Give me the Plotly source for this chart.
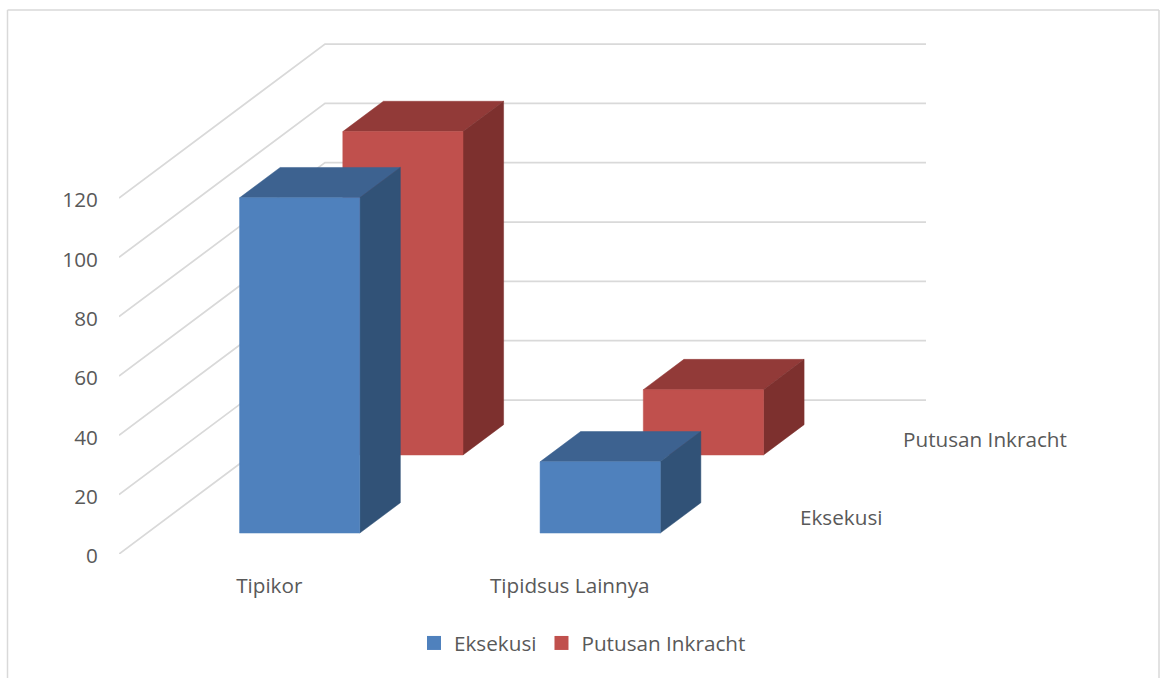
import plotly.graph_objects as go

# Chart data
categories = ["Tipikor", "Tipidsus Lainnya"]
series_names = ["Eksekusi", "Putusan Inkracht"]
eksekusi = [113, 24]
putusan_inkracht = [109, 22]
value_ticks = [0, 20, 40, 60, 80, 100, 120]

# Page geometry and the scale of the front plane (pixels)
WIDTH, HEIGHT = 1160, 678
LEFT, BASELINE = 119, 554
PX_PER_CATEGORY = 300.5
PX_PER_VALUE = 356 / 120

# Oblique projection: one unit of depth moves a point right and up
DEPTH_X = 206 / PX_PER_CATEGORY
DEPTH_Y = 154 / PX_PER_VALUE
N_CATEGORIES = 2
BAR_WIDTH = 0.4
BAR_DEPTH = 0.197
ROW_FRONT = {"Eksekusi": 0.136, "Putusan Inkracht": 0.643}
ROW_NUDGE = {"Eksekusi": 0.008, "Putusan Inkracht": 0.004}
LABEL_SHIFT = {"Eksekusi": 30, "Putusan Inkracht": 28}

FONT = "Open Sans"
FONT_SIZE = 20.7
TEXT = "#595959"
GRID = "#D9D9D9"
STYLES = {
    "Eksekusi": {"front": "#4F81BD", "top": "#3D6290", "side": "#315277"},
    "Putusan Inkracht": {"front": "#C0504D", "top": "#923A38", "side": "#7D302E"},
}


def project(x, value, depth):
    return x + depth * DEPTH_X, value + depth * DEPTH_Y


def polygons(faces):
    xs, ys = [], []
    for face in faces:
        for x, value, depth in face + face[:1]:
            px, py = project(x, value, depth)
            xs.append(px)
            ys.append(py)
        xs.append(None)
        ys.append(None)
    return xs, ys


def bar_faces(name, values):
    d0 = ROW_FRONT[name]
    d1 = d0 + BAR_DEPTH
    front, top, side = [], [], []
    for i, v in enumerate(values):
        x0 = i + 0.5 - BAR_WIDTH / 2 + ROW_NUDGE[name]
        x1 = x0 + BAR_WIDTH
        front.append([(x0, 0, d0), (x1, 0, d0), (x1, v, d0), (x0, v, d0)])
        top.append([(x0, v, d0), (x1, v, d0), (x1, v, d1), (x0, v, d1)])
        side.append([(x1, 0, d0), (x1, 0, d1), (x1, v, d1), (x1, v, d0)])
    return {"front": front, "top": top, "side": side}


fig = go.Figure()

# Side wall and back wall gridlines
grid_x, grid_y = [], []
for v in value_ticks:
    for x, depth in [(0, 0), (0, 1), (N_CATEGORIES, 1)]:
        px, py = project(x, v, depth)
        grid_x.append(px)
        grid_y.append(py)
    grid_x.append(None)
    grid_y.append(None)
fig.add_trace(go.Scatter(x=grid_x, y=grid_y, mode="lines",
                         line=dict(color=GRID, width=1.75), showlegend=False,
                         hoverinfo="skip"))

# Rear row first so the front row overlaps it
for name, values in [("Putusan Inkracht", putusan_inkracht), ("Eksekusi", eksekusi)]:
    faces = bar_faces(name, values)
    for part in ["top", "side", "front"]:
        xs, ys = polygons(faces[part])
        fig.add_trace(go.Scatter(x=xs, y=ys, mode="lines", fill="toself",
                                 fillcolor=STYLES[name][part],
                                 line=dict(color=STYLES[name][part], width=0.5),
                                 showlegend=False, name=name))

# Legend keys
for name in series_names:
    fig.add_trace(go.Scatter(x=[None], y=[None], mode="markers", name=name,
                             marker=dict(symbol="square", size=14,
                                         color=STYLES[name]["front"])))

# Depth axis labels, one per row
annotations = []
for name in series_names:
    px, py = project(N_CATEGORIES, 0, ROW_FRONT[name] + BAR_DEPTH / 2)
    annotations.append(dict(x=px, y=py, text=name, showarrow=False, xanchor="left",
                            yanchor="middle", xshift=LABEL_SHIFT[name], yshift=1,
                            xref="x", yref="y",
                            font=dict(family=FONT, size=FONT_SIZE, color=TEXT)))


# The plot area runs from the axes to the page's top and right edges
def paper_x(p):
    return (p - LEFT) / (WIDTH - LEFT)


def paper_y(p):
    return (BASELINE - p) / BASELINE


# Chart frame, open at the bottom edge of the page
frame = [
    dict(type="line", xref="paper", yref="paper", x0=paper_x(x0), x1=paper_x(x1),
         y0=paper_y(y0), y1=paper_y(y1), line=dict(color=GRID, width=1.5))
    for x0, y0, x1, y1 in [(7.5, 10, 1159, 10), (7.5, 10, 7.5, 678), (1159, 10, 1159, 678)]
]

fig.update_layout(
    width=WIDTH, height=HEIGHT,
    margin=dict(l=LEFT, r=0, t=0, b=HEIGHT - BASELINE, pad=0),
    paper_bgcolor="white", plot_bgcolor="rgba(0,0,0,0)",
    font=dict(family=FONT, size=FONT_SIZE, color=TEXT),
    xaxis=dict(range=[0, (WIDTH - LEFT) / PX_PER_CATEGORY], tickmode="array",
               tickvals=[0.5, 1.5], ticktext=categories,
               showgrid=False, zeroline=False, showline=False, ticks="outside",
               ticklen=13, tickcolor="rgba(0,0,0,0)", fixedrange=True),
    yaxis=dict(range=[0, BASELINE / PX_PER_VALUE], tickmode="array", tickvals=value_ticks,
               showgrid=False, zeroline=False, showline=False, ticks="outside",
               ticklen=16, ticklabelshift=2, tickcolor="rgba(0,0,0,0)", fixedrange=True),
    legend=dict(orientation="h", x=paper_x(414), y=paper_y(623), xanchor="left", yanchor="top",
                bgcolor="rgba(0,0,0,0)", font=dict(family=FONT, size=FONT_SIZE, color=TEXT),
                traceorder="normal"),
    annotations=annotations,
    shapes=frame,
    showlegend=True,
)

fig.write_html("out.html", config=dict(displayModeBar=False))
